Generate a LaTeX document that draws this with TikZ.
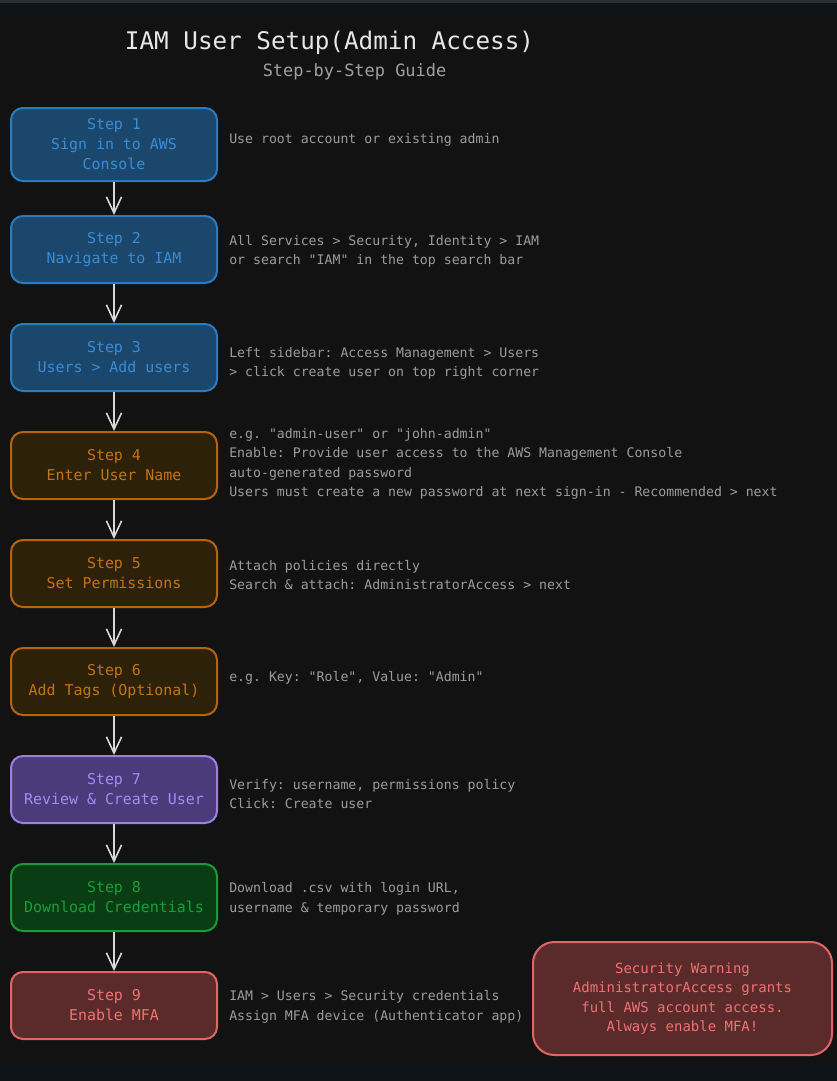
\documentclass[tikz,border=0pt]{standalone}
\usepackage{fontspec}
\setmonofont{DejaVu Sans Mono}
\usepackage{xcolor}
\usepackage{tikz}
\usetikzlibrary{positioning,arrows.meta}
\definecolor{bgdark}{HTML}{121212}
\definecolor{barnavy}{HTML}{0E1219}
\definecolor{barline}{HTML}{2B2F36}
\definecolor{titlegray}{HTML}{E6E6E6}
\definecolor{subgray}{HTML}{A0A0A0}
\definecolor{notegray}{HTML}{9C9C9C}
\definecolor{arrowgray}{HTML}{D8D8D8}
\definecolor{blfill}{HTML}{1B476C}
\definecolor{blline}{HTML}{2B7BC0}
\definecolor{bltext}{HTML}{3A8CD4}
\definecolor{orfill}{HTML}{2D2109}
\definecolor{orline}{HTML}{B5650E}
\definecolor{ortext}{HTML}{C47414}
\definecolor{pufill}{HTML}{4B3B7A}
\definecolor{puline}{HTML}{9B80E2}
\definecolor{putext}{HTML}{A78BF2}
\definecolor{grfill}{HTML}{0A3D13}
\definecolor{grline}{HTML}{1B9A37}
\definecolor{grtext}{HTML}{1A9E3C}
\definecolor{rdfill}{HTML}{5B2B2B}
\definecolor{rdline}{HTML}{E06666}
\definecolor{rdtext}{HTML}{F07272}
\tikzset{
  % --- step boxes ------------------------------------------------------------
  sbox/.style={rectangle,rounded corners=9pt,line width=1.5pt,
               minimum width=154.5pt,minimum height=50.25pt,align=center,
               inner sep=2pt,font=\ttfamily\fontsize{11.2}{15}\selectfont},
  sblue/.style={sbox,fill=blfill,draw=blline,text=bltext},
  sorange/.style={sbox,fill=orfill,draw=orline,text=ortext},
  spurple/.style={sbox,fill=pufill,draw=puline,text=putext},
  sgreen/.style={sbox,fill=grfill,draw=grline,text=grtext},
  sred/.style={sbox,fill=rdfill,draw=rdline,text=rdtext},
  % --- side notes and warning ------------------------------------------------
  note/.style={anchor=west,align=left,inner sep=0pt,text=notegray,
               font=\ttfamily\fontsize{9.9}{14.6}\selectfont},
  warn/.style={rectangle,rounded corners=16pt,line width=1.5pt,fill=rdfill,
               draw=rdline,text=rdtext,minimum width=224.25pt,
               minimum height=84.75pt,align=center,
               font=\ttfamily\fontsize{10.5}{14.5}\selectfont},
  % --- flow arrows -----------------------------------------------------------
  flow/.style={-{Straight Barb[length=4.3mm,width=4mm]},line width=1.2pt,
               arrowgray},
}

\begin{document}
\begin{tikzpicture}[x=0.75pt, y=-0.75pt]
  \useasboundingbox (0,0) rectangle (837,1081);
  \fill[bgdark] (0,0) rectangle (837,1081);
  \fill[barnavy] (0,0) rectangle (837,13);
  \fill[barline] (0,0) rectangle (837,3);
  \fill[barnavy] (0,1065) rectangle (837,1081);

  \node[text=titlegray,font=\ttfamily\fontsize{18.2}{22}\selectfont] (title)
    at (329.5,43) {IAM User Setup(Admin Access)};
  \node[text=subgray,font=\ttfamily\fontsize{12.7}{15}\selectfont] (sub)
    at (354.5,72) {Step-by-Step Guide};

  \node[sblue,minimum height=54.75pt] (s1) at (114,144.5) {Step 1\\Sign in to AWS\\Console};
  \node[sblue]   (s2) at (114,249.5)  {Step 2\\Navigate to IAM};
  \node[sblue]   (s3) at (114,357.5)  {Step 3\\Users > Add users};
  \node[sorange] (s4) at (114,465.5)  {Step 4\\Enter User Name};
  \node[sorange] (s5) at (114,573.5)  {Step 5\\Set Permissions};
  \node[sorange] (s6) at (114,681.5)  {Step 6\\Add Tags (Optional)};
  \node[spurple] (s7) at (114,789.5)  {Step 7\\Review \& Create User};
  \node[sgreen]  (s8) at (114,897.5)  {Step 8\\Download Credentials};
  \node[sred]    (s9) at (114,1005.5) {Step 9\\Enable MFA};

  \foreach \a/\b in {s1/s2,s2/s3,s3/s4,s4/s5,s5/s6,s6/s7,s7/s8,s8/s9}
    \draw[flow] (\a) -- (\b);

  \node[note] (d1) at (229,140) {Use root account or existing admin};
  \node[note] (d2) at (229,251.5) {All Services > Security, Identity > IAM\\or search "IAM" in the top search bar};
  \node[note] (d3) at (229,363.5) {Left sidebar: Access Management > Users\\> click create user on top right corner};
  \node[note] (d4) at (229,464) {e.g. "admin-user" or "john-admin"\\Enable: Provide user access to the AWS Management Console\\auto-generated password\\Users must create a new password at next sign-in - Recommended > next};
  \node[note] (d5) at (229,575) {Attach policies directly\\Search \& attach: AdministratorAccess > next};
  \node[note] (d6) at (229,678) {e.g. Key: "Role", Value: "Admin"};
  \node[note] (d7) at (229,794) {Verify: username, permissions policy\\Click: Create user};
  \node[note] (d8) at (229,899) {Download .csv with login URL,\\username \& temporary password};
  \node[note] (d9) at (229,1007) {IAM > Users > Security credentials\\Assign MFA device (Authenticator app)};

  \node[warn] (w) at (682.5,998.5) {Security Warning\\AdministratorAccess grants\\full AWS account access.\\Always enable MFA!};
\end{tikzpicture}
\end{document}
